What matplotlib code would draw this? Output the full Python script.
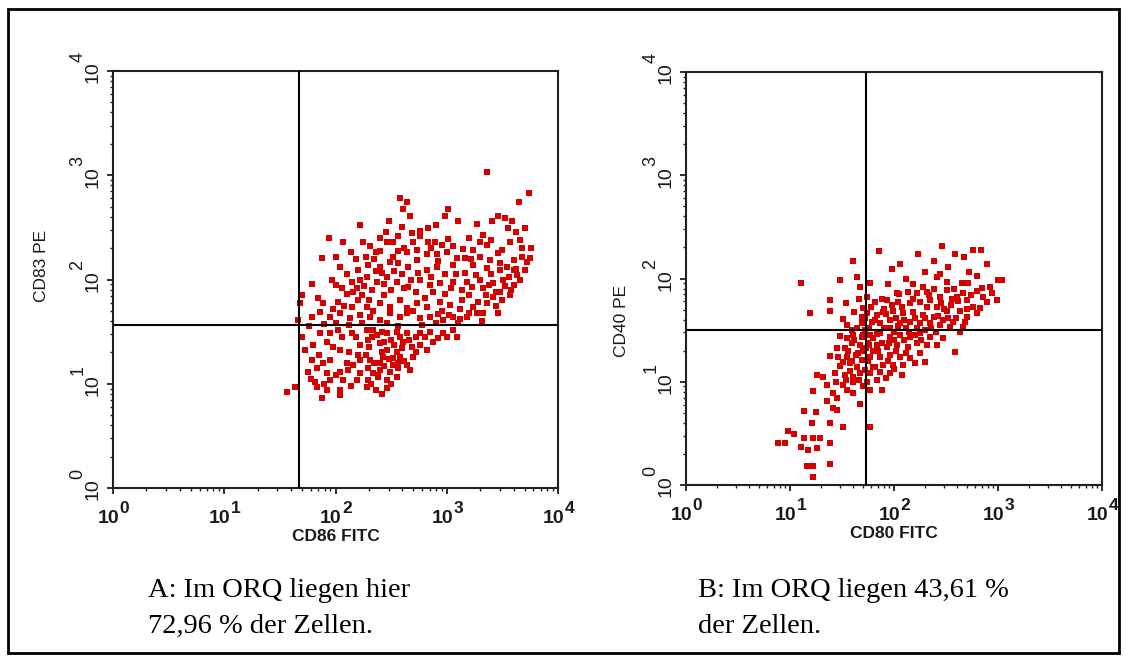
import numpy as np
import matplotlib.pyplot as plt
from matplotlib.patches import Rectangle
from matplotlib.ticker import LogLocator, NullFormatter

# Cells in panel A (log10 of CD86 FITC, log10 of CD83 PE)
cells_a = [
    (3.36, 3.03), (3.74, 2.83), (3.65, 2.74), (2.58, 2.78), (2.64, 2.74), (2.61, 2.68), (2.67, 2.61),
    (3.01, 2.68), (2.98, 2.61), (3.10, 2.56), (2.48, 2.56), (2.22, 2.52), (3.27, 2.53), (3.41, 2.56),
    (3.46, 2.61), (3.52, 2.59), (3.59, 2.56), (3.70, 2.49), (3.55, 2.49), (3.62, 2.46), (2.76, 2.47),
    (2.76, 2.42), (2.83, 2.49), (2.69, 2.45), (2.45, 2.46), (1.94, 2.40), (2.07, 2.36), (2.25, 2.36),
    (2.31, 2.32), (2.46, 2.36), (2.52, 2.36), (2.83, 2.36), (2.89, 2.36), (3.01, 2.39), (2.96, 2.33),
    (3.15, 2.29), (3.24, 2.28), (3.30, 2.36), (3.36, 2.33), (3.33, 2.43), (3.50, 2.28), (3.57, 2.36),
    (3.66, 2.38), (1.88, 2.21), (2.27, 2.22), (2.36, 2.26), (2.40, 2.27), (2.56, 2.27), (2.64, 2.26),
    (2.73, 2.28), (2.82, 2.24), (2.91, 2.24), (3.00, 2.26), (3.09, 2.21), (3.16, 2.21), (3.30, 2.22),
    (3.39, 2.19), (3.48, 2.16), (3.60, 2.19), (3.68, 2.22), (3.75, 2.21), (3.72, 2.17), (2.04, 2.12),
    (2.20, 2.09), (2.29, 2.14), (2.40, 2.12), (2.49, 2.17), (2.56, 2.16), (2.65, 2.12), (2.73, 2.19),
    (2.82, 2.09), (2.91, 2.12), (3.06, 2.14), (3.24, 2.14), (3.36, 2.11), (3.48, 2.09), (3.60, 2.09),
    (3.70, 2.09), (1.79, 1.96), (1.97, 2.00), (2.06, 1.92), (2.15, 1.98), (2.19, 1.92), (2.28, 2.02),
    (2.37, 1.98), (2.46, 2.02), (2.55, 1.98), (2.65, 1.93), (2.76, 2.00), (2.85, 1.95), (2.94, 1.97),
    (3.06, 1.98), (3.18, 1.98), (3.23, 1.93), (3.33, 1.92), (3.42, 1.97), (3.51, 2.00), (3.60, 1.95),
    (3.63, 2.04), (1.89, 1.77), (2.02, 1.78), (2.15, 1.74), (2.20, 1.80), (2.28, 1.74), (2.40, 1.77),
    (2.49, 1.74), (2.58, 1.80), (2.64, 1.73), (2.73, 1.77), (2.82, 1.74), (2.94, 1.78), (3.03, 1.76),
    (3.14, 1.80), (3.24, 1.74), (3.36, 1.77), (3.42, 1.83), (3.48, 1.88), (3.57, 1.85), (3.46, 1.68),
    (1.68, 1.77), (1.79, 1.64), (1.86, 1.69), (1.95, 1.64), (2.04, 1.68), (2.13, 1.63), (2.22, 1.66),
    (2.31, 1.64), (2.40, 1.61), (2.49, 1.68), (2.58, 1.64), (2.64, 1.68), (2.76, 1.63), (2.85, 1.64),
    (2.97, 1.61), (3.06, 1.64), (3.18, 1.64), (3.27, 1.68), (3.33, 1.68), (1.66, 1.61),
    (1.86, 1.49), (1.95, 1.49), (2.02, 1.52), (2.15, 1.49), (2.28, 1.52), (2.37, 1.47), (2.46, 1.49),
    (2.55, 1.50), (2.64, 1.49), (2.76, 1.49), (2.85, 1.50), (2.97, 1.49), (3.06, 1.52), (3.09, 1.45),
    (3.00, 1.45), (1.73, 1.32), (1.80, 1.37), (1.92, 1.40), (2.04, 1.32), (2.22, 1.37), (2.29, 1.42),
    (2.40, 1.39), (2.46, 1.32), (2.53, 1.37), (2.61, 1.40), (2.69, 1.35), (2.76, 1.37), (2.88, 1.40),
    (2.82, 1.32), (1.79, 1.23), (1.89, 1.20), (1.95, 1.23), (2.10, 1.20), (2.22, 1.23), (2.31, 1.23),
    (2.43, 1.26), (2.52, 1.25), (2.58, 1.26), (2.70, 1.26), (2.40, 1.20), (1.75, 1.11), (1.83, 1.15),
    (1.92, 1.10), (2.04, 1.11), (2.11, 1.13), (2.22, 1.10), (2.29, 1.15), (2.40, 1.13), (2.49, 1.11),
    (2.56, 1.15), (2.67, 1.13), (1.82, 1.02), (1.95, 1.04), (2.07, 1.04), (2.19, 1.04), (2.29, 1.04),
    (2.38, 1.06), (2.46, 1.04), (2.55, 1.06), (1.64, 0.97), (1.56, 0.92), (1.83, 0.97), (1.92, 0.94),
    (2.04, 0.94), (2.28, 0.97), (2.36, 0.94), (2.46, 0.96), (1.88, 0.86), (2.04, 0.89),
    # denser parts of the cloud
    (2.33, 1.45), (2.42, 1.30), (2.50, 1.42), (2.35, 1.20), (2.44, 1.17), (2.55, 1.30), (2.62, 1.22),
    (2.30, 1.35), (2.48, 1.24), (2.38, 1.08), (2.52, 1.18), (2.27, 1.28), (2.58, 1.45), (2.66, 1.42),
    (2.72, 1.45), (2.42, 1.50), (2.18, 1.45), (2.12, 1.30), (2.10, 2.05), (2.24, 1.85), (2.33, 1.90),
    (2.42, 2.06), (2.50, 1.90), (2.60, 2.05), (2.68, 2.00), (2.18, 2.20), (2.35, 2.20), (2.52, 2.22),
    (2.62, 2.30), (2.44, 1.85), (2.30, 1.80), (2.10, 1.86), (2.00, 1.95), (2.22, 2.00), (2.72, 1.88),
    (2.80, 1.82), (2.88, 1.88), (2.98, 1.86), (3.02, 1.66), (3.12, 1.72), (3.20, 1.85), (3.28, 1.78),
    (3.35, 1.85), (3.44, 1.75), (3.52, 1.94), (3.56, 2.02), (3.62, 2.10), (3.40, 2.05), (3.30, 2.00),
    (3.14, 1.90), (3.08, 2.05), (3.22, 2.20), (3.46, 2.25), (2.92, 1.67), (3.12, 1.62), (2.96, 1.70),
    (1.70, 1.85), (1.76, 1.55), (1.84, 1.82), (1.90, 1.57), (1.98, 1.72), (2.00, 1.58), (2.08, 1.75),
    (2.12, 1.56), (2.16, 1.88), (2.24, 1.58), (2.26, 1.94), (2.34, 1.70), (2.36, 2.08), (2.44, 1.96),
    (2.46, 1.58), (2.53, 2.08), (2.56, 1.55), (2.62, 1.92), (2.70, 1.70), (2.74, 2.06), (2.78, 1.56),
    (2.86, 2.02), (2.90, 1.58), (2.92, 2.18), (2.98, 2.05), (3.04, 1.92), (3.10, 1.58), (3.16, 2.06),
    (3.20, 1.68), (3.26, 2.04), (3.32, 1.60), (3.38, 1.95), (3.44, 1.88), (3.50, 1.80), (3.54, 2.12),
    (3.58, 1.90), (3.66, 2.00), (3.68, 2.30), (3.76, 2.30), (3.40, 2.38), (3.20, 2.40), (3.06, 2.32),
    (2.86, 2.30), (2.70, 2.36), (2.56, 2.42), (2.40, 2.40), (2.14, 2.26), (2.00, 2.22), (2.60, 2.50),
    (2.90, 2.52), (1.70, 1.45), (1.85, 1.28), (1.98, 1.35), (2.06, 1.45), (2.16, 1.18), (2.20, 1.28),
    (2.34, 1.10), (2.44, 1.40), (2.60, 1.34), (2.64, 1.18), (2.72, 1.30), (2.80, 1.45), (2.92, 1.44),
    (2.00, 1.08), (1.90, 1.00), (2.14, 0.98), (2.32, 1.00), (2.50, 1.00), (1.78, 1.05), (2.42, 0.90),
    (2.56, 1.20), (2.34, 1.52),
]

# Cells in panel B (log10 of CD80 FITC, log10 of CD40 PE)
cells_b = [
    (1.86, 2.27), (2.46, 2.31), (2.76, 2.28), (2.84, 2.28), (2.89, 2.14), (2.59, 2.24), (2.67, 2.21),
    (2.23, 2.24), (2.38, 2.17), (2.52, 2.11), (1.61, 2.17), (1.98, 2.09), (2.06, 2.14), (1.11, 1.96),
    (1.48, 1.99), (1.64, 2.01), (1.77, 1.96), (1.67, 1.92), (3.04, 1.99), (3.00, 1.99), (2.80, 2.02),
    (2.41, 2.01), (2.51, 1.97), (2.65, 1.96), (2.71, 1.96), (2.85, 1.91), (2.92, 1.92), (2.99, 1.79),
    (2.89, 1.77), (2.83, 1.71), (1.19, 1.67), (1.38, 1.79), (1.38, 1.69), (1.54, 1.76), (1.51, 1.61),
    (1.70, 1.71), (1.74, 1.82), (1.82, 1.77), (1.93, 1.79), (2.03, 1.86), (2.13, 1.87), (2.22, 1.86),
    (2.32, 1.87), (2.04, 1.77), (2.15, 1.76), (2.25, 1.77), (2.35, 1.79), (2.44, 1.82), (2.51, 1.89),
    (2.61, 1.82), (2.70, 1.79), (2.76, 1.72), (2.41, 1.72), (2.51, 1.69), (2.63, 1.69), (2.70, 1.63),
    (2.80, 1.67), (1.74, 1.67), (1.84, 1.65), (1.89, 1.68), (1.99, 1.69), (2.09, 1.67), (2.18, 1.68),
    (2.28, 1.65), (2.38, 1.63), (2.47, 1.60), (2.57, 1.58), (2.66, 1.53), (2.63, 1.48), (2.54, 1.53),
    (2.44, 1.55), (2.35, 1.57), (2.25, 1.57), (2.15, 1.58), (2.06, 1.57), (1.96, 1.60), (1.87, 1.57),
    (1.79, 1.58), (1.69, 1.57), (1.64, 1.52), (1.69, 1.63), (1.61, 1.45), (1.69, 1.43), (1.77, 1.45),
    (1.87, 1.47), (1.96, 1.43), (2.06, 1.45), (2.15, 1.43), (2.25, 1.47), (2.35, 1.43), (2.47, 1.42),
    (2.41, 1.36), (2.32, 1.36), (2.22, 1.38), (2.13, 1.34), (2.03, 1.36), (1.93, 1.34), (1.84, 1.36),
    (1.75, 1.38), (1.67, 1.36), (1.60, 1.38), (1.55, 1.42), (1.53, 1.33), (1.45, 1.33), (1.38, 1.25),
    (1.46, 1.24), (1.55, 1.24), (1.63, 1.26), (1.69, 1.21), (1.77, 1.24), (1.87, 1.24), (1.96, 1.26),
    (2.06, 1.24), (2.15, 1.23), (2.25, 1.28), (2.30, 1.19), (2.20, 1.18), (2.09, 1.16), (1.99, 1.16),
    (1.89, 1.16), (1.80, 1.14), (1.72, 1.11), (1.64, 1.14), (1.58, 1.18), (1.51, 1.19), (2.59, 1.29),
    (1.26, 1.07), (1.32, 1.05), (1.43, 1.08), (1.53, 1.07), (1.61, 1.05), (1.67, 1.08), (1.77, 1.08),
    (1.87, 1.09), (1.96, 1.08), (2.08, 1.07), (1.84, 1.02), (1.74, 1.00), (1.61, 1.00), (1.51, 0.97),
    (1.41, 0.89), (1.36, 0.97), (1.22, 0.91), (1.77, 0.92), (1.88, 0.92), (1.55, 0.92), (1.61, 0.89),
    (1.36, 0.81), (1.45, 0.84), (1.67, 0.78), (1.41, 0.75), (1.13, 0.72), (1.25, 0.71), (1.45, 0.73),
    (1.21, 0.60), (1.38, 0.60), (1.51, 0.56), (1.77, 0.56), (0.98, 0.52), (1.04, 0.49), (1.13, 0.46),
    (1.22, 0.46), (1.29, 0.46), (1.38, 0.41), (0.88, 0.41), (0.95, 0.41), (1.11, 0.37), (1.17, 0.34),
    (1.26, 0.36), (1.38, 0.20), (1.16, 0.18), (1.22, 0.18), (1.22, 0.08),
    # denser core
    (1.72, 1.50), (1.80, 1.42), (1.90, 1.52), (2.00, 1.48), (1.85, 1.30), (1.95, 1.38), (1.65, 1.28),
    (1.75, 1.20), (2.02, 1.30), (2.10, 1.40), (1.82, 1.60), (1.92, 1.66), (2.02, 1.62), (1.70, 1.45),
    (1.60, 1.50), (1.78, 1.72), (1.88, 1.80), (1.98, 1.74), (2.12, 1.52), (2.20, 1.45), (2.30, 1.50),
    (2.40, 1.48), (2.20, 1.62), (2.32, 1.72), (2.45, 1.76), (2.55, 1.74), (2.60, 1.62), (2.70, 1.70),
    (2.12, 1.28), (1.58, 1.10), (1.66, 1.02), (1.94, 1.20), (1.73, 1.33), (1.62, 1.40), (2.05, 1.85),
    (2.18, 1.95), (2.28, 1.92), (2.38, 1.90), (2.58, 1.90), (2.66, 1.86),
    (1.55, 1.55), (1.62, 1.68), (1.66, 1.80), (1.72, 1.62), (1.76, 1.52), (1.80, 1.30), (1.84, 1.46),
    (1.88, 1.38), (1.90, 1.70), (1.96, 1.52), (2.00, 1.40), (2.04, 1.54), (2.08, 1.72), (2.10, 1.60),
    (2.14, 1.48), (2.18, 1.80), (2.22, 1.52), (2.26, 1.40), (2.30, 1.62), (2.34, 1.84), (2.36, 1.52),
    (2.42, 1.64), (2.48, 1.70), (2.52, 1.62), (2.56, 1.80), (2.62, 1.78), (2.68, 1.58), (2.74, 1.84),
    (2.80, 1.88), (2.86, 1.82), (2.94, 1.86), (2.72, 2.06), (2.44, 2.04), (2.30, 2.06), (2.12, 2.00),
    (1.94, 1.95), (1.70, 1.30), (1.60, 1.20), (1.56, 1.30), (1.48, 1.15), (1.44, 1.00), (1.54, 1.02),
    (1.70, 0.96), (1.82, 1.14), (1.92, 1.04), (2.00, 1.12), (1.48, 1.44), (1.76, 1.36),
]

# quadrant gates (x, y) in linear units
gate_a = (47, 37)
gate_b = (54, 32)

decades = [0, 1, 2, 3, 4]
x_labels = ["CD86 FITC", "CD80 FITC"]
y_labels = ["CD83 PE", "CD40 PE"]
captions = [["A: Im ORQ liegen hier", "72,96 % der Zellen."],
            ["B: Im ORQ liegen 43,61 %", "der Zellen."]]

dot_red = "#d60000"
sans = "Liberation Sans"
serif = "Liberation Serif"

fig = plt.figure(figsize=(11.26, 6.61), dpi=100)
W, H = 1126, 661

# axes boxes in pixels: left, top, right, bottom
boxes = [(113, 71, 558, 488), (686, 72, 1102, 485)]
ylab_pos = [(-48, 0.532), (-43, 0.397)]
cap_x = [148, 698]

for i, cells in enumerate([cells_a, cells_b]):
    l, t, r, b = boxes[i]
    ax = fig.add_axes([l / W, 1 - b / H, (r - l) / W, (b - t) / H])
    pts = np.array(cells)
    ax.scatter(10 ** pts[:, 0], 10 ** pts[:, 1], s=15, marker="s", color=dot_red,
               linewidths=0, zorder=2)
    gx, gy = [gate_a, gate_b][i]
    ax.axvline(gx, color="black", lw=1.5, zorder=3)
    ax.axhline(gy, color="black", lw=1.5, zorder=3)

    ax.set_xscale("log")
    ax.set_yscale("log")
    ax.set_xlim(1, 1e4)
    ax.set_ylim(1, 1e4)
    for sp in ax.spines.values():
        sp.set_linewidth(1.5)
        sp.set_color("#202020")
    ax.xaxis.set_major_locator(LogLocator(base=10, numticks=10))
    ax.yaxis.set_major_locator(LogLocator(base=10, numticks=10))
    ax.xaxis.set_minor_locator(LogLocator(base=10, subs=np.arange(2, 10), numticks=10))
    ax.yaxis.set_minor_locator(LogLocator(base=10, subs=np.arange(2, 10), numticks=10))
    ax.xaxis.set_major_formatter(NullFormatter())
    ax.yaxis.set_major_formatter(NullFormatter())
    ax.xaxis.set_minor_formatter(NullFormatter())
    ax.yaxis.set_minor_formatter(NullFormatter())
    ax.tick_params(which="major", direction="out", length=4, width=1.3, color="#202020")
    ax.tick_params(which="minor", direction="out", length=2.5, width=1.0, color="#202020")

    # decade labels, "10" with a large raised exponent
    for k in decades:
        ax.annotate("10", xy=(10 ** k, 0), xycoords=("data", "axes fraction"),
                    xytext=(4.5, -25), textcoords="offset points", ha="right", va="baseline",
                    fontsize=14, family=sans, fontweight="bold", color="#1a1a1a")
        ax.annotate(str(k), xy=(10 ** k, 0), xycoords=("data", "axes fraction"),
                    xytext=(4.8, -18), textcoords="offset points", ha="left", va="baseline",
                    fontsize=12.5, family=sans, fontweight="bold", color="#1a1a1a")
        ax.annotate("10", xy=(0, 10 ** k), xycoords=("axes fraction", "data"),
                    xytext=(-11.5, -1), textcoords="offset points", ha="center", va="baseline",
                    rotation=90, rotation_mode="anchor",
                    fontsize=14, family=sans, color="#1a1a1a")
        ax.annotate(str(k), xy=(0, 10 ** k), xycoords=("axes fraction", "data"),
                    xytext=(-22, 6.5), textcoords="offset points", ha="left", va="baseline",
                    rotation=90, rotation_mode="anchor",
                    fontsize=13, family=sans, color="#1a1a1a")

    ax.annotate(x_labels[i], xy=(0.5, 0), xycoords="axes fraction", xytext=(0, -38),
                textcoords="offset points", ha="center", va="baseline",
                fontsize=12.5, family=sans, fontweight="bold", color="#1a1a1a")
    dx, fy = ylab_pos[i]
    ax.annotate(y_labels[i], xy=(0, fy), xycoords="axes fraction", xytext=(dx, 0),
                textcoords="offset points", ha="center", va="baseline",
                rotation=90, rotation_mode="anchor",
                fontsize=12.5, family=sans, color="#1a1a1a")

    for j, line in enumerate(captions[i]):
        fig.text(cap_x[i] / W, 1 - (597 + 36 * j) / H, line, ha="left", va="baseline",
                 fontsize=20.5, family=serif, color="black")

# frame around the whole figure
fig.add_artist(Rectangle((8 / W, 1 - 653 / H), (1119 - 8) / W, (653 - 9) / H,
                         transform=fig.transFigure, fill=False, lw=2, edgecolor="black"))

fig.savefig("out.png", dpi=100)
